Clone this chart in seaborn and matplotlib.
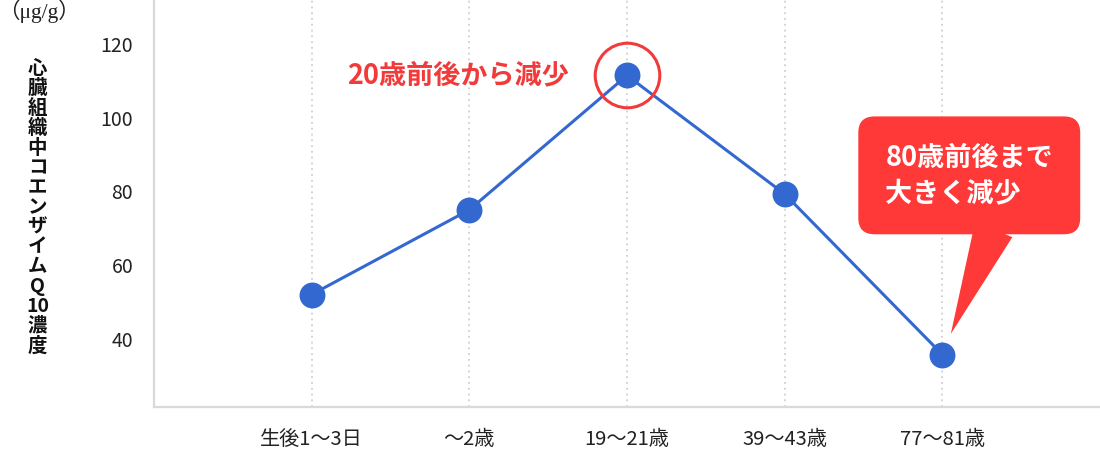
import numpy as np
import pandas as pd
import matplotlib.pyplot as plt
import seaborn as sns

# values
ages = ["生後1～3日", "～2歳", "19～21歳", "39～43歳", "77～81歳"]
coq10 = [52.0, 75.0, 111.5, 79.3, 35.7]
y_ticks = [40, 60, 80, 100, 120]

unit_label = "（μg/g）"
y_label = "心臓組織中コエンザイムQ10濃度"
peak_note = "20歳前後から減少"
drop_note = "80歳前後まで\n大きく減少"

BLUE = "#3468d1"
RED = "#f23a3a"
BOX_RED = "#ff3838"
GRID = "#cfcfcf"
SPINE = "#d9d9d9"

sns.set_theme(style="white")
plt.rcParams["font.family"] = ["Noto Sans CJK JP", "DejaVu Sans"]

df = pd.DataFrame({"age": ages, "coq10": coq10})

fig = plt.figure(figsize=(11, 4.5), dpi=100)
ax = fig.add_axes([0.14, 0.096, 0.86, 0.904])

sns.pointplot(data=df, x="age", y="coq10", order=ages, color=BLUE,
              errorbar=None, markersize=17, linewidth=2.2, ax=ax)
for ln in ax.lines:
    ln.set_markeredgecolor(BLUE)

ax.set_xlim(-1, len(ages))
ax.set_ylim(21.5, 132)
ax.set_yticks(y_ticks)
ax.set_xlabel("")
ax.set_ylabel("")
ax.tick_params(axis="both", length=0, colors="#222222")
ax.tick_params(axis="y", pad=15, labelsize=14)
ax.tick_params(axis="x", pad=16, labelsize=14.5)

ax.grid(False)
ax.xaxis.grid(True, linestyle=(0, (1, 2.2)), color=GRID, linewidth=1.3)
ax.set_axisbelow(True)
for side in ["top", "right"]:
    ax.spines[side].set_visible(False)
for side in ["left", "bottom"]:
    ax.spines[side].set_color(SPINE)
    ax.spines[side].set_linewidth(1.6)

# red ring on the peak and its note
peak_i = int(np.argmax(coq10))
ax.plot([peak_i], [coq10[peak_i]], marker="o", markersize=46.5,
        markerfacecolor="none", markeredgecolor=RED, markeredgewidth=2.2,
        linestyle="none", clip_on=False, zorder=5)
ax.annotate(peak_note, xy=(peak_i, coq10[peak_i]), xytext=(-42, 0),
            textcoords="offset points", ha="right", va="center",
            fontsize=19.5, fontweight="bold", color=RED)

# speech-bubble callout on the last point
last_i = len(ages) - 1
ax.annotate("", xy=(last_i, coq10[last_i]), xytext=(37, 90),
            textcoords="offset points",
            arrowprops=dict(arrowstyle="wedge,tail_width=2.9,shrink_factor=0.5",
                            mutation_scale=10, fc=BOX_RED, ec="none",
                            shrinkA=0, shrinkB=16),
            annotation_clip=False, zorder=6)
ax.annotate(drop_note, xy=(last_i, coq10[last_i]), xytext=(-41, 129),
            textcoords="offset points", ha="left", va="center",
            fontsize=19.5, fontweight="bold", color="white", linespacing=1.35,
            bbox=dict(boxstyle="round,pad=1.0,rounding_size=0.6",
                      fc=BOX_RED, ec="none"),
            annotation_clip=False, zorder=7)

# vertical axis title and unit
fig.text(0.034, 0.539, "\n".join(["心", "臓", "組", "織", "中", "コ", "エ", "ン",
                                   "ザ", "イ", "ム", "Q", "10", "濃", "度"]),
         ha="center", va="center", fontsize=14, fontweight="bold",
         color="#111111", linespacing=1.05)
fig.text(-0.002, 0.975, unit_label, ha="left", va="center", fontsize=15.5,
         color="#222222", family=["Liberation Serif", "Noto Sans CJK JP"])

fig.savefig("out.png", dpi=100)
plt.close(fig)
